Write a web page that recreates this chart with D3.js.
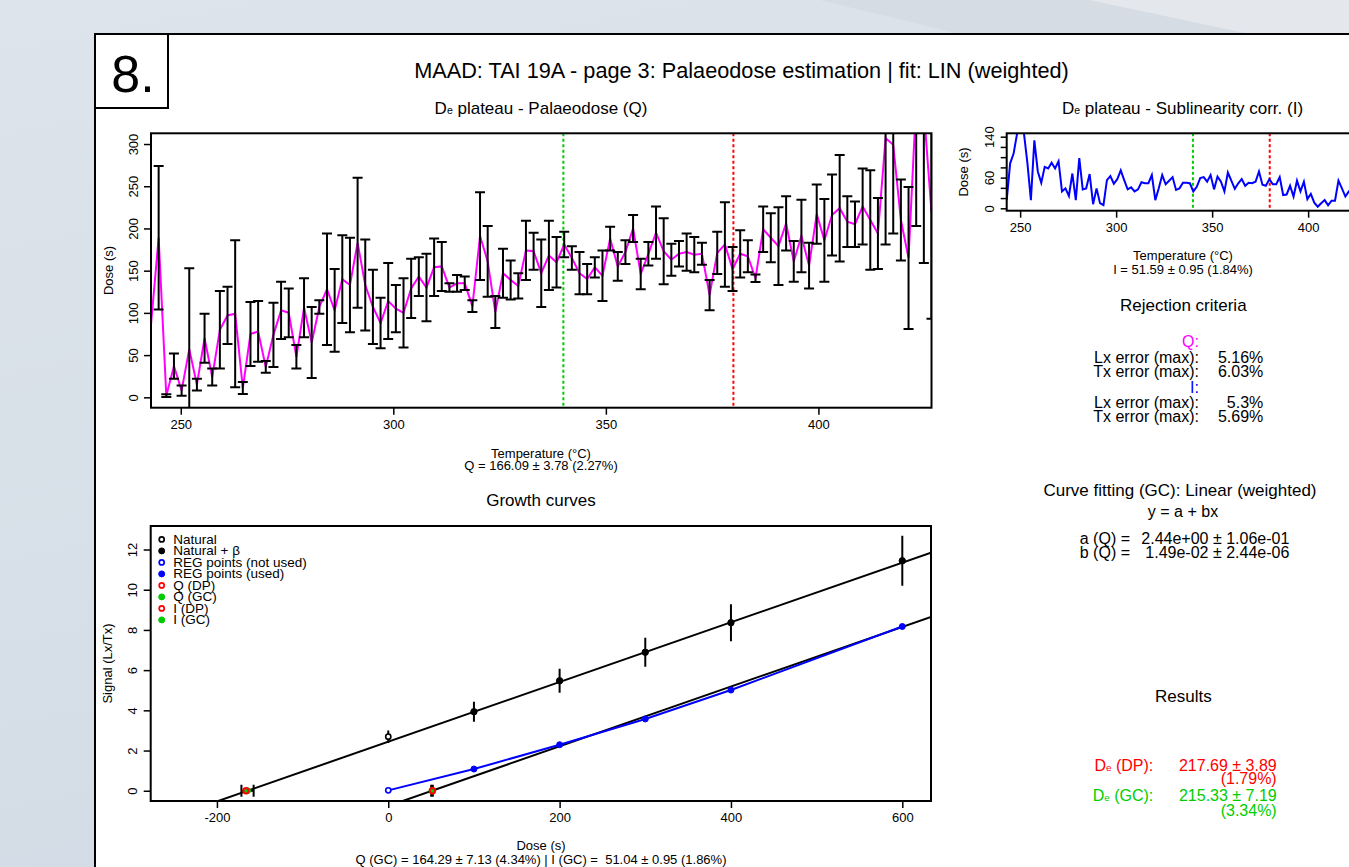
<!DOCTYPE html>
<html><head><meta charset="utf-8">
<script src="https://cdn.jsdelivr.net/npm/d3@7/dist/d3.min.js"></script>
<style>
body{margin:0;background:#d8e0e9;}
svg{display:block;font-family:"Liberation Sans",Arial,Helvetica,sans-serif;}
</style>
</head><body>
<svg id="c" width="1349" height="867"></svg>
<script>
// ---------------- DATA ----------------
const temperature = [243.0,244.8,246.6,248.4,250.2,252.0,253.8,255.6,257.4,259.2,261.0,262.8,264.6,266.4,268.2,270.0,271.8,273.6,275.4,277.2,279.0,280.8,282.6,284.4,286.2,288.0,289.8,291.6,293.4,295.2,297.0,298.8,300.6,302.4,304.2,306.0,307.8,309.6,311.4,313.2,315.0,316.8,318.6,320.4,322.2,324.0,325.8,327.6,329.4,331.2,333.0,334.8,336.6,338.4,340.2,342.0,343.8,345.6,347.4,349.2,351.0,352.8,354.6,356.4,358.2,360.0,361.8,363.6,365.4,367.2,369.0,370.8,372.6,374.4,376.2,378.0,379.8,381.6,383.4,385.2,387.0,388.8,390.6,392.4,394.2,396.0,397.8,399.6,401.4,403.2,405.0,406.8,408.6,410.4,412.2,414.0,415.8,417.6,419.4,421.2,423.0,424.8,426.6];
const palaeodoseQ = [86,189,2,37,8,57,15,70,24,80,97,99,11,75,78,36,74,103,100,48,106,65,107,128,103,140,133,183,133,107,88,114,105,100,129,143,130,154,155,130,135,135,108,191,161,101,147,139,132,174,173,147,168,160,181,165,147,140,154,144,188,155,172,200,146,170,195,173,163,170,172,169,170,121,171,181,152,170,167,141,199,189,179,206,161,191,156,217,186,216,224,208,205,226,210,194,307,299,210,165,351,340,219];
const palaeodoseQErr = [0,85,1.5,15,6,96,7,29,10,46,34,87,7,38,36,7,38,34,29,14,35,42,8,66,49,52,56,77,54,44,30,45,28,41,35,23,40,34,29,5,10,8,7,52,42,19,29,23,15,35,22,40,41,30,15,14,25,18,12,30,14,17,14,16,18,14,31,39,19,15,22,21,13,18,25,50,26,28,19,4.5,27,29,46,32,24,43,27,35,49,48,63,30,27,45,59,42,126,105,48,84,148,181,126];
const sublinearityI = [16,88,107,146,155,146,88,16,133,72,50,81,78,89,78,92,33,39,24,68,16,98,37,39,67,8,39,10,6,55,63,48,57,74,55,37,41,33,37,51,49,49,65,16,39,65,47,54,61,36,39,50,50,49,33,42,59,61,52,65,37,62,52,33,70,54,38,49,57,44,50,49,52,72,46,44,57,47,47,61,26,27,44,23,54,33,52,18,28,11,3,10,16,6,15,15,54,39,23,33,40,30,35];
const plateauLimits = [340, 380];
const tempTicks = [250, 300, 350, 400];
const doseTicksQ = [0, 50, 100, 150, 200, 250, 300];
const doseTicksI = [0, 20, 40, 60, 80, 100, 120, 140];
const doseLabelsI = [0, 60, 140];
const growthDoseTicks = [-200, 0, 200, 400, 600];
const growthSignalTicks = [0, 2, 4, 6, 8, 10, 12];
const naturalDose = [0, 100, 200, 300, 400, 600];
const naturalSignal = [2.69, 3.93, 5.47, 6.89, 8.36, 11.44];
const naturalErr = [0.31, 0.5, 0.6, 0.72, 0.92, 1.24];
const regDose = [0, 100, 200, 300, 400, 600];
const regSignal = [0.02, 1.08, 2.29, 3.57, 5.01, 8.17];
const regUsed = [false, true, true, true, true, true];
const fitA = 2.44, fitB = 0.01485;
const qGC = 164.29, qGCErr = 7.13, qDP = 166.09;
const iGC = 51.04, iGCErr = 0.95, iDP = 51.59;
const legendLabels = ["Natural", "Natural + \u03b2", "REG points (not used)", "REG points (used)", "Q (DP)", "Q (GC)", "I (DP)", "I (GC)"];
const legendColors = ["#000", "#000", "#0000ff", "#0000ff", "#ff0000", "#00cd00", "#ff0000", "#00cd00"];
const legendFilled = [false, true, false, true, false, true, false, true];

// ---------------- DRAW ----------------
const GREEN = "#00cd00", RED = "#ff0000", MAG = "#ff00ff", BLUE = "#0000ff";
const svg = d3.select("#c");
const defs = svg.append("defs");
const bg = defs.append("linearGradient").attr("id","bg").attr("x1","0").attr("y1","0").attr("x2","0.3").attr("y2","1");
bg.append("stop").attr("offset","0").attr("stop-color","#dde4eb");
bg.append("stop").attr("offset","1").attr("stop-color","#d3dce6");
svg.append("rect").attr("width",1349).attr("height",867).attr("fill","url(#bg)");
svg.append("polygon").attr("points","820,0 1090,0 1250,34 960,34").attr("fill","#d6dce4");
svg.append("polygon").attr("points","1090,0 1349,0 1349,34 1250,34").attr("fill","#e4e8ec");

// panel
svg.append("rect").attr("x",95).attr("y",34).attr("width",1300).attr("height",900)
  .attr("fill","#fff").attr("stroke","#000").attr("stroke-width",2);
svg.append("rect").attr("x",95).attr("y",34).attr("width",73).attr("height",74)
  .attr("fill","#fff").attr("stroke","#000").attr("stroke-width",2);
svg.append("text").attr("x",133).attr("y",91.5).attr("text-anchor","middle")
  .attr("font-size",52).text("8.");

function txt(x, y, s, opt = {}) {
  const t = svg.append("text").attr("x", x).attr("y", y)
    .attr("text-anchor", opt.anchor || "middle")
    .attr("dominant-baseline", "central")
    .attr("font-size", opt.size || 13)
    .attr("fill", opt.color || "#000");
  if (opt.rotate) t.attr("transform", `rotate(-90,${x},${y})`);
  t.text(s);
  return t;
}
function subE(x, y, rest, opt = {}) {
  const t = svg.append("text").attr("x", x).attr("y", y)
    .attr("text-anchor", opt.anchor || "middle")
    .attr("dominant-baseline", "central")
    .attr("font-size", opt.size || 17)
    .attr("fill", opt.color || "#000");
  t.append("tspan").text("D");
  t.append("tspan").attr("font-size", (opt.size || 17) * 0.62).attr("dy", 2).text("e");
  t.append("tspan").attr("dy", -2).text(rest);
  return t;
}

txt(741.5, 70.5, "MAAD: TAI 19A - page 3: Palaeodose estimation | fit: LIN (weighted)", {size: 21.7});

function styleAxis(g) {
  g.select(".domain").remove();
  g.selectAll(".tick line").attr("stroke", "#000").attr("stroke-width", 1.5);
  g.selectAll(".tick text").attr("font-size", 13).attr("fill", "#000")
    .attr("font-family", '"Liberation Sans",Arial,Helvetica,sans-serif');
}
function rotateY(g, off) {
  g.selectAll(".tick text").attr("transform", "rotate(-90)")
    .attr("x", 0).attr("y", -off).attr("dy", 0).attr("text-anchor", "middle");
}

// ---- Top plot: De plateau Q ----
const P1 = {l: 151, r: 931.5, t: 133.3, b: 407.7};
const x1 = d3.scaleLinear().domain([243, 426.6]).range([P1.l, P1.r]);
const y1 = d3.scaleLinear().domain([-12.3, 312.7]).range([P1.b, P1.t]);
defs.append("clipPath").attr("id","clip1").append("rect")
  .attr("x",P1.l).attr("y",P1.t).attr("width",P1.r-P1.l).attr("height",P1.b-P1.t);
subE(541, 108, " plateau - Palaeodose (Q)");
const g1 = svg.append("g").attr("clip-path","url(#clip1)");
plateauLimits.forEach((v, i) => {
  g1.append("line").attr("x1", x1(v)).attr("x2", x1(v)).attr("y1", P1.t).attr("y2", P1.b)
    .attr("stroke", i === 0 ? GREEN : RED).attr("stroke-width", 2).attr("stroke-dasharray", "3,2.5");
});
g1.append("path").datum(temperature)
  .attr("d", d3.line().x(d => x1(d)).y((d, i) => y1(palaeodoseQ[i])))
  .attr("fill","none").attr("stroke",MAG).attr("stroke-width",2);
temperature.forEach((t, i) => {
  const e = palaeodoseQErr[i];
  if (!e) return;
  const cx = x1(t), lo = y1(palaeodoseQ[i] - e), hi = y1(palaeodoseQ[i] + e);
  g1.append("line").attr("x1",cx).attr("x2",cx).attr("y1",lo).attr("y2",hi).attr("stroke","#000").attr("stroke-width",2);
  [lo, hi].forEach(yy => g1.append("line").attr("x1",cx-5).attr("x2",cx+5).attr("y1",yy).attr("y2",yy).attr("stroke","#000").attr("stroke-width",2));
});
svg.append("rect").attr("x",P1.l).attr("y",P1.t).attr("width",P1.r-P1.l).attr("height",P1.b-P1.t)
  .attr("fill","none").attr("stroke","#000").attr("stroke-width",2);
svg.append("g").attr("transform",`translate(0,${P1.b})`)
  .call(d3.axisBottom(x1).tickValues(tempTicks).tickSize(7).tickPadding(5).tickFormat(d3.format("d")))
  .call(styleAxis);
svg.append("g").attr("transform",`translate(${P1.l},0)`)
  .call(d3.axisLeft(y1).tickValues(doseTicksQ).tickSize(7).tickFormat(d3.format("d")))
  .call(styleAxis).call(g => rotateY(g, 13.5));
txt(108, 270.5, "Dose (s)", {rotate: true});
txt(541, 453, "Temperature (\u00b0C)");
txt(541, 465.5, "Q = 166.09 \u00b1 3.78 (2.27%)");

// ---- Small plot: De plateau I ----
const P2 = {l: 1006.7, r: 1359.2, t: 133.3, b: 210.7};
const x2 = d3.scaleLinear().domain([243, 426.6]).range([P2.l, P2.r]);
const y2 = d3.scaleLinear().domain([0, 140]).range([208.3, 136.7]);
defs.append("clipPath").attr("id","clip2").append("rect")
  .attr("x",P2.l).attr("y",P2.t).attr("width",P2.r-P2.l).attr("height",P2.b-P2.t);
subE(1182.5, 108.3, " plateau - Sublinearity corr. (I)");
const g2 = svg.append("g").attr("clip-path","url(#clip2)");
plateauLimits.forEach((v, i) => {
  g2.append("line").attr("x1", x2(v)).attr("x2", x2(v)).attr("y1", P2.t).attr("y2", P2.b)
    .attr("stroke", i === 0 ? GREEN : RED).attr("stroke-width", 2).attr("stroke-dasharray", "3,2.5");
});
g2.append("path").datum(temperature)
  .attr("d", d3.line().x(d => x2(d)).y((d, i) => y2(sublinearityI[i])))
  .attr("fill","none").attr("stroke",BLUE).attr("stroke-width",2);
svg.append("rect").attr("x",P2.l).attr("y",P2.t).attr("width",P2.r-P2.l).attr("height",P2.b-P2.t)
  .attr("fill","none").attr("stroke","#000").attr("stroke-width",2);
svg.append("g").attr("transform",`translate(0,${P2.b})`)
  .call(d3.axisBottom(x2).tickValues(tempTicks).tickSize(7).tickPadding(5).tickFormat(d3.format("d")))
  .call(styleAxis);
svg.append("g").attr("transform",`translate(${P2.l},0)`)
  .call(d3.axisLeft(y2).tickValues(doseTicksI).tickSize(6)
    .tickFormat(d => doseLabelsI.includes(d) ? d3.format("d")(d) : ""))
  .call(styleAxis).call(g => rotateY(g, 12.3));
txt(963, 172, "Dose (s)", {rotate: true});
txt(1183, 255, "Temperature (\u00b0C)");
txt(1183, 269.3, "I = 51.59 \u00b1 0.95 (1.84%)");

// ---- Right texts ----
txt(1183.3, 305, "Rejection criteria", {size: 17});
txt(1199, 341, "Q:", {size: 16, anchor: "end", color: MAG});
txt(1199, 357.3, "Lx error (max):", {size: 16, anchor: "end"});
txt(1263.3, 357.3, "5.16%", {size: 16, anchor: "end"});
txt(1199, 371, "Tx error (max):", {size: 16, anchor: "end"});
txt(1263.3, 371, "6.03%", {size: 16, anchor: "end"});
txt(1199, 387.3, "I:", {size: 16, anchor: "end", color: BLUE});
txt(1199, 402.7, "Lx error (max):", {size: 16, anchor: "end"});
txt(1263.3, 402.7, "5.3%", {size: 16, anchor: "end"});
txt(1199, 416.7, "Tx error (max):", {size: 16, anchor: "end"});
txt(1263.3, 416.7, "5.69%", {size: 16, anchor: "end"});
txt(1180, 490.7, "Curve fitting (GC): Linear (weighted)", {size: 17});
txt(1183, 511, "y = a + bx", {size: 16});
txt(1130, 538.3, "a (Q) =", {size: 16, anchor: "end"});
txt(1289.3, 538.3, "2.44e+00 \u00b1 1.06e-01", {size: 16, anchor: "end"});
txt(1130, 552.3, "b (Q) =", {size: 16, anchor: "end"});
txt(1289.3, 552.3, "1.49e-02 \u00b1 2.44e-06", {size: 16, anchor: "end"});
txt(1183.3, 696.7, "Results", {size: 17});
subE(1153.3, 765, " (DP):", {size: 16, anchor: "end", color: RED});
txt(1276.7, 765, "217.69 \u00b1 3.89", {size: 16, anchor: "end", color: RED});
txt(1276.7, 778.5, "(1.79%)", {size: 16, anchor: "end", color: RED});
subE(1153.3, 795, " (GC):", {size: 16, anchor: "end", color: GREEN});
txt(1276.7, 795, "215.33 \u00b1 7.19", {size: 16, anchor: "end", color: GREEN});
txt(1276.7, 810, "(3.34%)", {size: 16, anchor: "end", color: GREEN});

// ---- Growth curves ----
const P3 = {l: 150.7, r: 931, t: 526, b: 801};
const x3 = d3.scaleLinear().domain([-277.3, 633.5]).range([P3.l, P3.r]);
const y3 = d3.scaleLinear().domain([-0.51, 13.17]).range([P3.b, P3.t]);
defs.append("clipPath").attr("id","clip3").append("rect")
  .attr("x",P3.l).attr("y",P3.t).attr("width",P3.r-P3.l).attr("height",P3.b-P3.t);
txt(541, 500, "Growth curves", {size: 17});
const g3 = svg.append("g").attr("clip-path","url(#clip3)");
const dom = x3.domain();
g3.append("line").attr("x1",x3(dom[0])).attr("y1",y3(fitA + fitB*dom[0]))
  .attr("x2",x3(dom[1])).attr("y2",y3(fitA + fitB*dom[1])).attr("stroke","#000").attr("stroke-width",2);
g3.append("line").attr("x1",x3(dom[0])).attr("y1",y3(fitB*(dom[0]-iGC)))
  .attr("x2",x3(dom[1])).attr("y2",y3(fitB*(dom[1]-iGC))).attr("stroke","#000").attr("stroke-width",2);
g3.append("path").datum(regDose)
  .attr("d", d3.line().x(d => x3(d)).y((d, i) => y3(regSignal[i])))
  .attr("fill","none").attr("stroke",BLUE).attr("stroke-width",2);
naturalDose.forEach((d, i) => {
  g3.append("line").attr("x1",x3(d)).attr("x2",x3(d))
    .attr("y1",y3(naturalSignal[i]-naturalErr[i])).attr("y2",y3(naturalSignal[i]+naturalErr[i]))
    .attr("stroke","#000").attr("stroke-width",2);
  g3.append("circle").attr("cx",x3(d)).attr("cy",y3(naturalSignal[i])).attr("r", i === 0 ? 2.6 : 3.2)
    .attr("fill", i === 0 ? "#fff" : "#000").attr("stroke","#000").attr("stroke-width", i === 0 ? 1.6 : 1);
});
regDose.forEach((d, i) => {
  g3.append("circle").attr("cx",x3(d)).attr("cy",y3(regSignal[i])).attr("r", regUsed[i] ? 3 : 2.6)
    .attr("fill", regUsed[i] ? BLUE : "#fff").attr("stroke",BLUE).attr("stroke-width", regUsed[i] ? 1 : 1.6);
});
function hErr(c, e) {
  g3.append("line").attr("x1",x3(c-e)).attr("x2",x3(c+e)).attr("y1",y3(0)).attr("y2",y3(0)).attr("stroke","#000").attr("stroke-width",2);
  [c-e, c+e].forEach(v => g3.append("line").attr("x1",x3(v)).attr("x2",x3(v)).attr("y1",y3(0)-6).attr("y2",y3(0)+6).attr("stroke","#000").attr("stroke-width",2));
}
hErr(-qGC, qGCErr);
g3.append("circle").attr("cx",x3(-qGC)).attr("cy",y3(0)).attr("r",3).attr("fill",GREEN).attr("stroke",GREEN);
g3.append("circle").attr("cx",x3(-qDP)).attr("cy",y3(0)).attr("r",2.7).attr("fill","none").attr("stroke",RED).attr("stroke-width",2);
hErr(iGC, iGCErr);
g3.append("circle").attr("cx",x3(iGC)).attr("cy",y3(0)).attr("r",3).attr("fill",GREEN).attr("stroke",GREEN);
g3.append("circle").attr("cx",x3(iDP)).attr("cy",y3(0)).attr("r",2.7).attr("fill","none").attr("stroke",RED).attr("stroke-width",2);
svg.append("rect").attr("x",P3.l).attr("y",P3.t).attr("width",P3.r-P3.l).attr("height",P3.b-P3.t)
  .attr("fill","none").attr("stroke","#000").attr("stroke-width",2);
svg.append("g").attr("transform",`translate(0,${P3.b})`)
  .call(d3.axisBottom(x3).tickValues(growthDoseTicks).tickSize(7).tickPadding(5).tickFormat(d => d < 0 ? "-" + Math.abs(d) : String(d)))
  .call(styleAxis);
svg.append("g").attr("transform",`translate(${P3.l},0)`)
  .call(d3.axisLeft(y3).tickValues(growthSignalTicks).tickSize(7).tickFormat(d3.format("d")))
  .call(styleAxis).call(g => rotateY(g, 13.5));
txt(107, 663.5, "Signal (Lx/Tx)", {rotate: true});
txt(541, 845, "Dose (s)");
txt(541, 859, "Q (GC) = 164.29 \u00b1 7.13 (4.34%) | I (GC) =  51.04 \u00b1 0.95 (1.86%)").style("white-space","pre");
legendLabels.forEach((lab, i) => {
  const yy = 539.4 + i * 11.5;
  svg.append("circle").attr("cx",161.7).attr("cy",yy).attr("r", legendFilled[i] ? 3 : 2.5)
    .attr("fill", legendFilled[i] ? legendColors[i] : "#fff")
    .attr("stroke", legendColors[i]).attr("stroke-width", legendFilled[i] ? 1 : 1.7);
  txt(173.3, yy, lab, {size: 13.5, anchor: "start"});
});
</script>
</body></html>
